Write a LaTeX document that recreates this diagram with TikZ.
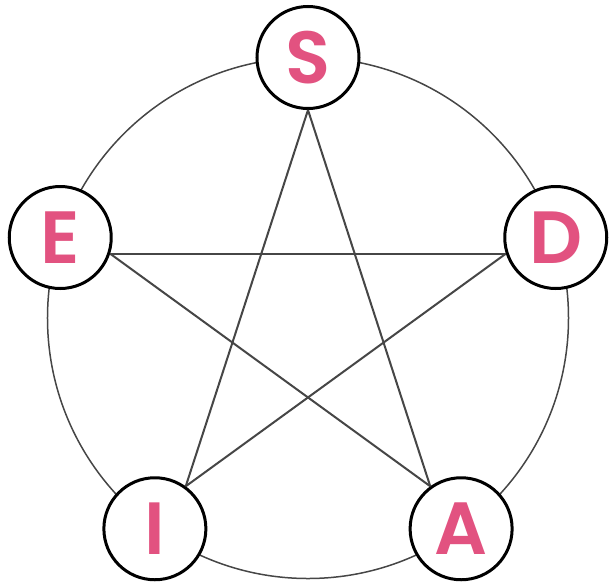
\documentclass[tikz,border=0pt]{standalone}
\usepackage{fontspec}
\setmainfont{Poppins}[BoldFont={Poppins SemiBold}]
\usepackage{xcolor}
\usepackage{tikz}
\definecolor{mypink}{RGB}{226, 82, 128}
\definecolor{mygray}{RGB}{70, 70, 70}

\begin{document}
\begin{tikzpicture}[
  x=1pt, y=1pt,
  letter/.style={circle, draw=black, fill=white, line width=3pt,
                 minimum size=102pt, inner sep=0pt, text=mypink,
                 font=\fontsize{74}{74}\selectfont\bfseries},
  ring/.style={draw=mygray, line width=1.5pt},
  link/.style={draw=mygray, line width=2pt}
]
  \useasboundingbox (-308,-264) rectangle (301,318);
  \draw[ring] (0,0) circle (260.5);

  \node[letter] (s) at (90:260.5)  {S};
  \node[letter] (e) at (162:260.5) {E};
  \node[letter] (i) at (234:260.5) {I};
  \node[letter] (a) at (306:260.5) {A};
  \node[letter] (d) at (18:260.5)  {D};

  % star points sit on the rims, facing the middle
  \draw[link] (s.270) -- (i.54);
  \draw[link] (s.270) -- (a.126);
  \draw[link] (e.342) -- (d.198);
  \draw[link] (e.342) -- (a.126);
  \draw[link] (d.198) -- (i.54);
\end{tikzpicture}
\end{document}
